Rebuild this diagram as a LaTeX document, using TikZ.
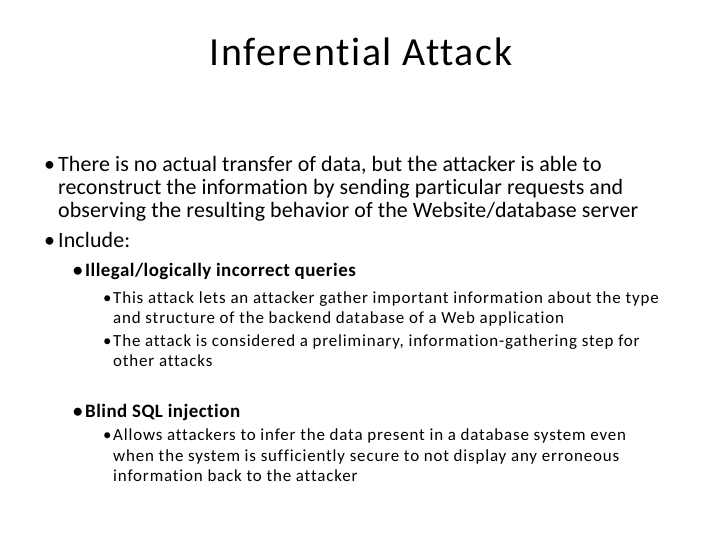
\documentclass[tikz,border=0pt]{standalone}
\usepackage{fontspec}
\setmainfont{Carlito}[Ligatures=NoCommon]
\usetikzlibrary{positioning}

\tikzset{
  lvlone/.style={anchor=base west, inner sep=0pt, font=\fontsize{22}{25}\selectfont\addfontfeature{LetterSpace=0.6}},
  lvltwo/.style={anchor=base west, inner sep=0pt, font=\fontsize{19}{22}\selectfont\bfseries\addfontfeature{LetterSpace=2.5}},
  lvlthree/.style={anchor=base west, inner sep=0pt, font=\fontsize{17}{19}\selectfont\addfontfeature{LetterSpace=5}},
}

\begin{document}
\begin{tikzpicture}[x=1bp, y=-1bp]
\useasboundingbox (0,0) rectangle (720,540);
  \node[anchor=base, inner sep=0pt, font=\fontsize{40}{44}\selectfont\addfontfeature{LetterSpace=4}] (title) at (361,66) {Inferential Attack};
% level one
\node[lvlone] (b_one) at (44,172) {\textbullet};
\node[lvlone] (t_one_a) at (58,172) {There is no actual transfer of data, but the attacker is able to};
\node[lvlone] (t_one_b) at (58,195) {reconstruct the information by sending particular requests and};
\node[lvlone] (t_one_c) at (58,218) {observing the resulting behavior of the Website/database server};
\node[lvlone] (b_incl) at (44,248) {\textbullet};
\node[lvlone] (t_incl) at (58,248) {Include:};
% illegal queries
\node[lvltwo] (b_illegal) at (73,277) {\textbullet};
\node[lvltwo] (t_illegal) at (85,277) {Illegal/logically incorrect queries};
\node[lvlthree] (b_gather) at (103,303) {\textbullet};
\node[lvlthree] (t_gather_a) at (113,303) {This attack lets an attacker gather important information about the type};
\node[lvlthree] (t_gather_b) at (113,323) {and structure of the backend database of a Web application};
\node[lvlthree] (b_prelim) at (103,346) {\textbullet};
\node[lvlthree] (t_prelim_a) at (113,346) {The attack is considered a preliminary, information-gathering step for};
\node[lvlthree] (t_prelim_b) at (113,366) {other attacks};
% blind injection
\node[lvltwo] (b_blind) at (73,417) {\textbullet};
\node[lvltwo] (t_blind) at (85,417) {Blind SQL injection};
\node[lvlthree] (b_infer) at (103,440) {\textbullet};
\node[lvlthree] (t_infer_a) at (113,440) {Allows attackers to infer the data present in a database system even};
\node[lvlthree] (t_infer_b) at (113,461) {when the system is sufficiently secure to not display any erroneous};
\node[lvlthree] (t_infer_c) at (113,481) {information back to the attacker};
\end{tikzpicture}
\end{document}
